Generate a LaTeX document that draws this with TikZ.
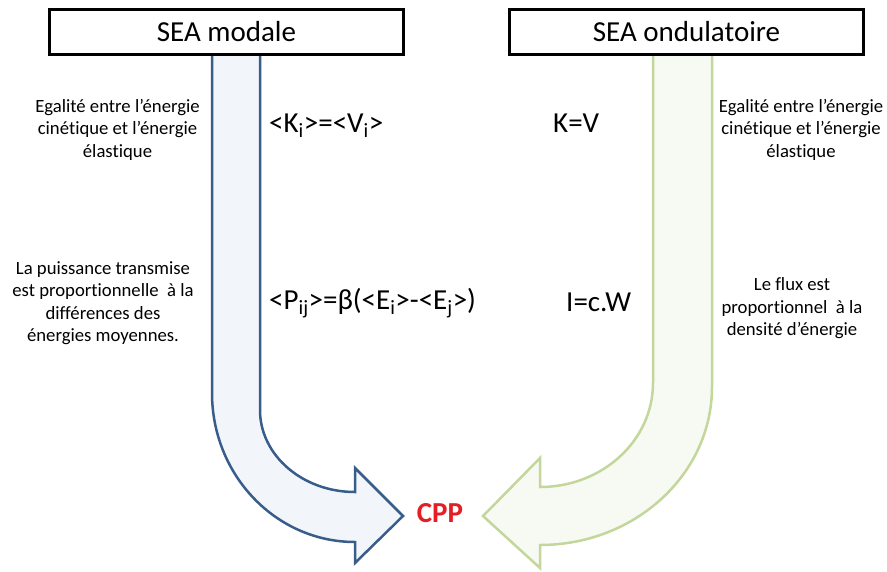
\documentclass[tikz,border=0pt]{standalone}
\usepackage{fontspec}
\setmainfont[Ligatures={NoCommon}]{Carlito}
\definecolor{bluestroke}{RGB}{56,93,138}
\definecolor{bluefill}{RGB}{242,246,250}
\definecolor{greenstroke}{RGB}{195,214,155}
\definecolor{greenfill}{RGB}{247,250,242}
\definecolor{cppred}{RGB}{230,30,36}
\begin{document}
\begin{tikzpicture}[x=1pt,y=-1pt,
  titlebox/.style={draw=black,line width=3pt,fill=white,minimum width=354pt,minimum height=45pt,inner sep=0pt,font=\fontsize{29}{34}\selectfont},
  smalltext/.style={align=center,inner sep=0pt,font=\fontsize{18.7}{22.5}\selectfont},
  bigtext/.style={inner sep=0pt,font=\fontsize{29}{34}\selectfont},
  bluearrow/.style={draw=bluestroke,fill=bluefill,line width=2.5pt,line join=miter},
  greenarrow/.style={draw=greenstroke,fill=greenfill,line width=2.5pt,line join=miter}]
\useasboundingbox (0,0) rectangle (887,571);
% arrows
\draw[bluearrow] (212,50) -- (212,393) .. controls (212,475.3) and (276,542) .. (355,542)
  -- (355,563) -- (403,516) -- (355,468) -- (355,492)
  .. controls (302.5,492) and (260,455.3) .. (260,410) -- (260,50) -- cycle;
\draw[greenarrow] (653,50) -- (653,383) .. controls (653,440.4) and (602.4,487) .. (540,487)
  -- (540,458) -- (483,516) -- (540,568) -- (540,545)
  .. controls (635,545) and (712,474.2) .. (712,387) -- (712,50) -- cycle;
% title boxes
\node[titlebox] (modale) at (226.5,32) {SEA modale};
\node[titlebox] (ondul) at (686.5,32) {SEA ondulatoire};
% texts
\node[smalltext] (egl) at (117.5,129.5) {Egalité entre l’énergie\\cinétique et l’énergie\\élastique};
\node[smalltext] (egr) at (801,129.5) {Egalité entre l’énergie\\cinétique et l’énergie\\élastique};
\node[smalltext] (puiss) at (103,303) {La puissance transmise\\est proportionnelle~ à la\\différences des\\énergies moyennes.};
\node[smalltext] (flux) at (792,308.5) {Le flux est\\proportionnel~ à la\\densité d’énergie};
\node[bigtext,anchor=base west] (kv1) at (269,132) {<K\textsubscript{i}>=<V\textsubscript{i}>};
\node[bigtext,anchor=base west] (kv2) at (553,132) {K=V};
\node[bigtext,anchor=base west] (pij) at (269,309) {<P\textsubscript{ij}>=β(<E\textsubscript{i}>-<E\textsubscript{j}>)};
\node[bigtext,anchor=base west] (icw) at (566,311) {I=c.W};
\node[bigtext,anchor=base,text=cppred,font=\fontsize{29}{34}\selectfont\bfseries] (cpp) at (440,522) {CPP};
\end{tikzpicture}
\end{document}
